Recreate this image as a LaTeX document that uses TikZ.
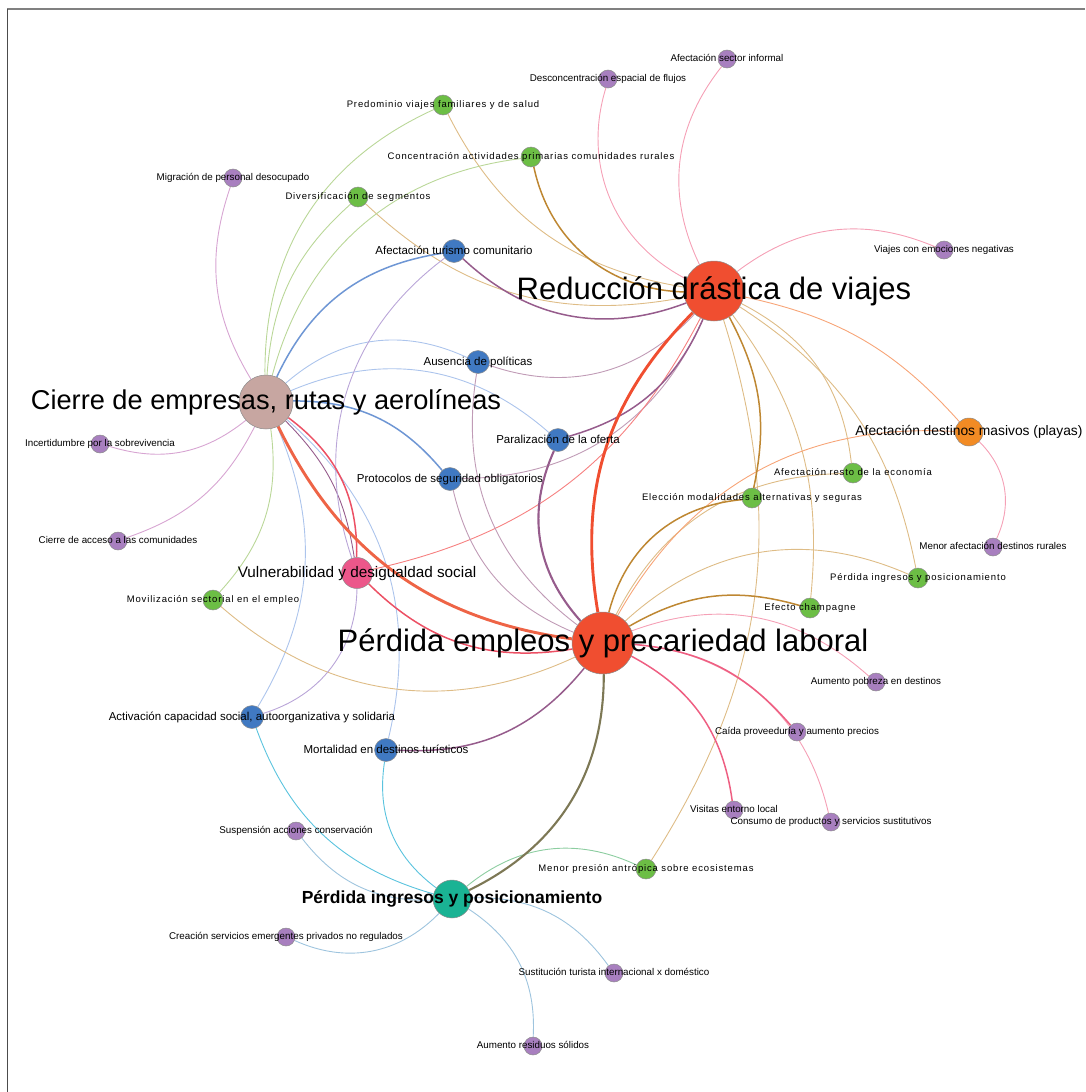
\documentclass[tikz,border=0pt]{standalone}
\usepackage{fontspec}
\setmainfont{Liberation Sans}
\newfontfamily\gfont[LetterSpace=9]{Liberation Sans}
\usetikzlibrary{backgrounds}
\definecolor{nred}{RGB}{240,78,48}
\definecolor{ncer}{RGB}{199,166,161}
\definecolor{nteal}{RGB}{26,179,148}
\definecolor{nvds}{RGB}{236,87,138}
\definecolor{nadm}{RGB}{242,139,36}
\definecolor{nblue}{RGB}{64,121,194}
\definecolor{ngreen}{RGB}{108,190,69}
\definecolor{npurp}{RGB}{168,127,191}
\definecolor{epink}{RGB}{245,160,182}
\definecolor{ebrown}{RGB}{190,135,50}
\definecolor{etan}{RGB}{222,188,134}
\definecolor{emauveD}{RGB}{150,92,140}
\definecolor{emauveL}{RGB}{192,155,182}
\definecolor{eredL}{RGB}{246,128,128}
\definecolor{eorange}{RGB}{247,165,120}
\definecolor{egreenL}{RGB}{186,215,152}
\definecolor{eblueM}{RGB}{110,150,212}
\definecolor{eblueL}{RGB}{172,196,236}
\definecolor{elavpink}{RGB}{215,165,210}
\definecolor{eorred}{RGB}{238,100,70}
\definecolor{evdsred}{RGB}{236,80,100}
\definecolor{epinkD}{RGB}{238,95,130}
\definecolor{eolive}{RGB}{125,120,85}
\definecolor{elav}{RGB}{186,166,216}
\definecolor{ecyan}{RGB}{90,195,222}
\definecolor{elblue}{RGB}{158,196,222}
\definecolor{elgreen}{RGB}{140,205,160}
\definecolor{frame}{RGB}{128,128,128}
\tikzset{
  dot/.style 2 args={circle, draw=black!45, line width=0.5pt, inner sep=0pt, fill=#1, minimum size=#2},
  lab/.style={inner sep=0pt, text=black},
  biglab/.style={lab, font=\fontsize{31}{31}\selectfont, text height=23pt, text depth=6pt},
  cerlab/.style={lab, font=\fontsize{27.2}{27}\selectfont, text height=20pt, text depth=5pt},
  piplab/.style={lab, font=\bfseries\fontsize{17.5}{18}\selectfont, text height=13pt, text depth=3.5pt},
  vdslab/.style={lab, font=\fontsize{15.3}{16}\selectfont, text height=11.4pt, text depth=3pt},
  admlab/.style={lab, font=\fontsize{13.8}{14}\selectfont, text height=10.3pt, text depth=2.7pt},
  bluelab/.style={lab, font=\fontsize{11.5}{12}\selectfont, text height=8.6pt, text depth=2.3pt},
  greenlab/.style={lab, font=\gfont\fontsize{9.5}{10}\selectfont, text height=7.1pt, text depth=1.9pt},
  purplab/.style={lab, font=\fontsize{9.8}{10}\selectfont, text height=7.4pt, text depth=2pt},
  ln/.style={line width=0.9pt},
  lnm/.style={line width=1.5pt},
  lnt/.style={line width=2.9pt},
}
\begin{document}
\begin{tikzpicture}[x=1pt,y=-1pt]
\useasboundingbox (0,0) rectangle (1085,1092);
\draw[frame, line width=1.5pt] (7,9) -- (1085,9);
\draw[black!70, line width=1pt] (7,9) -- (7,1092);
% nodes
\node[dot={nred}{60pt}] (rdv) at (714,291) {};
\node[dot={nred}{62pt}] (pep) at (603,643) {};
\node[dot={ncer}{54pt}] (cer) at (266,402) {};
\node[dot={nteal}{38pt}] (pip) at (452,899) {};
\node[dot={nvds}{31pt}] (vds) at (357,573) {};
\node[dot={nadm}{28pt}] (adm) at (969,432) {};
\node[dot={nblue}{23pt}] (atc) at (454,251) {};
\node[dot={nblue}{23pt}] (aus) at (478,362) {};
\node[dot={nblue}{23pt}] (par) at (558,440) {};
\node[dot={nblue}{23pt}] (pro) at (450,479) {};
\node[dot={nblue}{23pt}] (act) at (252,717) {};
\node[dot={nblue}{23pt}] (mor) at (386,750) {};
\node[dot={ngreen}{20pt}] (pvf) at (443,105) {};
\node[dot={ngreen}{20pt}] (cap) at (531,157) {};
\node[dot={ngreen}{20pt}] (div) at (358,197) {};
\node[dot={ngreen}{20pt}] (are) at (853,473) {};
\node[dot={ngreen}{20pt}] (ema) at (752,498) {};
\node[dot={ngreen}{20pt}] (pip2) at (918,578) {};
\node[dot={ngreen}{20pt}] (ech) at (810,608) {};
\node[dot={ngreen}{20pt}] (mse) at (213,600) {};
\node[dot={ngreen}{20pt}] (mpa) at (646,869) {};
\node[dot={npurp}{18pt}] (asi) at (727,59) {};
\node[dot={npurp}{18pt}] (def) at (608,79) {};
\node[dot={npurp}{18pt}] (ven) at (944,250) {};
\node[dot={npurp}{18pt}] (mig) at (233,178) {};
\node[dot={npurp}{18pt}] (inc) at (100,444) {};
\node[dot={npurp}{18pt}] (cac) at (118,541) {};
\node[dot={npurp}{18pt}] (mar) at (993,547) {};
\node[dot={npurp}{18pt}] (apd) at (876,682) {};
\node[dot={npurp}{18pt}] (cpa) at (797,732) {};
\node[dot={npurp}{18pt}] (vel) at (734,810) {};
\node[dot={npurp}{18pt}] (cps) at (831,822) {};
\node[dot={npurp}{18pt}] (sac) at (296,831) {};
\node[dot={npurp}{18pt}] (cse) at (286,937) {};
\node[dot={npurp}{18pt}] (sti) at (614,973) {};
\node[dot={npurp}{18pt}] (ars) at (533,1046) {};
% edges
\begin{scope}[on background layer]
\draw[ln, epink] (rdv) to[bend left=32] (asi);
\draw[ln, epink] (rdv) to[bend left=40] (def);
\draw[ln, epink] (rdv) to[bend left=30] (ven);
\draw[ln, etan] (rdv) to[bend left=27] (pvf);
\draw[ln, etan] (rdv) to[bend left=27] (div);
\draw[ln, emauveL] (rdv) to[bend left=33] (aus);
\draw[ln, emauveL] (rdv) to[bend left=33] (pro);
\draw[ln, eredL] (rdv) to[bend left=25] (vds);
\draw[ln, eorange] (rdv) to[bend left=18] (adm);
\draw[ln, etan] (rdv) to[bend left=28] (are);
\draw[ln, etan] (rdv) to[bend left=23] (pip2);
\draw[ln, etan] (rdv) to[bend left=21] (ech);
\draw[ln, etan] (rdv) to[bend left=25] (mpa);
\draw[ln, elavpink] (cer) to[bend left=25] (mig);
\draw[ln, egreenL] (cer) to[bend left=33] (pvf);
\draw[ln, egreenL] (cer) to[bend left=22] (div);
\draw[ln, egreenL] (cer) to[bend left=34] (cap);
\draw[ln, eblueL] (cer) to[bend left=33] (aus);
\draw[ln, eblueL] (cer) to[bend left=32] (par);
\draw[ln, elavpink] (cer) to[bend left=28] (inc);
\draw[ln, elavpink] (cer) to[bend left=22] (cac);
\draw[ln, egreenL] (cer) to[bend left=25] (mse);
\draw[ln, emauveD] (cer) to[bend left=18] (vds);
\draw[ln, eblueL] (cer) to[bend left=27] (act);
\draw[ln, eblueL] (cer) to[bend left=31] (mor);
\draw[ln, emauveL] (pep) to[bend left=31] (aus);
\draw[ln, emauveL] (pep) to[bend left=27] (pro);
\draw[ln, etan] (pep) to[bend left=33] (mse);
\draw[ln, etan] (pep) to[bend left=31] (are);
\draw[ln, eorange] (pep) to[bend left=32] (adm);
\draw[ln, etan] (pep) to[bend left=33] (pip2);
\draw[ln, epink] (pep) to[bend left=31] (apd);
\draw[ln, epink] (pep) to[bend left=36] (cps);
\draw[ln, elav] (vds) to[bend left=36] (atc);
\draw[ln, elav] (vds) to[bend left=36] (act);
\draw[ln, ecyan] (pip) to[bend left=27] (act);
\draw[ln, ecyan] (pip) to[bend left=31] (mor);
\draw[ln, elblue] (pip) to[bend left=27] (sac);
\draw[ln, elblue] (pip) to[bend left=35] (cse);
\draw[ln, elblue] (pip) to[bend left=28] (sti);
\draw[ln, elblue] (pip) to[bend left=30] (ars);
\draw[ln, elgreen] (pip) to[bend left=32] (mpa);
\draw[ln, epink] (adm) to[bend left=35] (mar);
% medium
\draw[lnm, ebrown] (rdv) to[bend left=38] (cap);
\draw[lnm, emauveD] (rdv) to[bend left=32] (atc);
\draw[lnm, emauveD] (rdv) to[bend left=25] (par);
\draw[lnm, ebrown] (rdv) to[bend left=20] (ema);
\draw[lnm, eblueM] (cer) to[bend left=28] (atc);
\draw[lnm, eblueM] (cer) to[bend left=25] (pro);
\draw[lnm, evdsred] (cer) to[bend left=27] (vds);
\draw[lnm, evdsred] (pep) to[bend left=27] (vds);
\draw[lnm, emauveD] (pep) to[bend left=27] (mor);
\draw[lnm, ebrown] (pep) to[bend left=35] (ema);
\draw[lnm, ebrown] (pep) to[bend left=23] (ech);
\draw[lnm, epinkD] (pep) to[bend left=22] (cpa);
\draw[lnm, epinkD] (pep) to[bend left=27] (vel);
\draw[line width=2.1pt, emauveD] (pep) to[bend left=33] (par);
\draw[line width=2.1pt, eolive] (pep) to[bend left=32] (pip);
% thick
\draw[lnt, eorred] (pep) to[bend left=28] (cer);
\draw[lnt, nred] (pep) to[bend left=27] (rdv);
\end{scope}
% labels
\node[biglab] (rdvL) at (rdv.center) {Reducción drástica de viajes};
\node[biglab] (pepL) at (pep.center) {Pérdida empleos y precariedad laboral};
\node[cerlab] (cerL) at (cer.center) {Cierre de empresas, rutas y aerolíneas};
\node[piplab] (pipL) at (pip.center) {Pérdida ingresos y posicionamiento};
\node[vdslab] (vdsL) at (vds.center) {Vulnerabilidad y desigualdad social};
\node[admlab] (admL) at (adm.center) {Afectación destinos masivos (playas)};
\node[bluelab] (atcL) at (atc.center) {Afectación turismo comunitario};
\node[bluelab] (ausL) at (aus.center) {Ausencia de políticas};
\node[bluelab] (parL) at (par.center) {Paralización de la oferta};
\node[bluelab] (proL) at (pro.center) {Protocolos de seguridad obligatorios};
\node[bluelab] (actL) at (act.center) {Activación capacidad social, autoorganizativa y solidaria};
\node[bluelab] (morL) at (mor.center) {Mortalidad en destinos turísticos};
\node[greenlab] (pvfL) at (pvf.center) {Predominio viajes familiares y de salud};
\node[greenlab] (capL) at (cap.center) {Concentración actividades primarias comunidades rurales};
\node[greenlab] (divL) at (div.center) {Diversificación de segmentos};
\node[greenlab] (areL) at (are.center) {Afectación resto de la economía};
\node[greenlab] (emaL) at (ema.center) {Elección modalidades alternativas y seguras};
\node[greenlab] (pip2L) at (pip2.center) {Pérdida ingresos y posicionamiento};
\node[greenlab] (echL) at (ech.center) {Efecto champagne};
\node[greenlab] (mseL) at (mse.center) {Movilización sectorial en el empleo};
\node[greenlab] (mpaL) at (mpa.center) {Menor presión antrópica sobre ecosistemas};
\node[purplab] (asiL) at (asi.center) {Afectación sector informal};
\node[purplab] (defL) at (def.center) {Desconcentración espacial de flujos};
\node[purplab] (venL) at (ven.center) {Viajes con emociones negativas};
\node[purplab] (migL) at (mig.center) {Migración de personal desocupado};
\node[purplab] (incL) at (inc.center) {Incertidumbre por la sobrevivencia};
\node[purplab] (cacL) at (cac.center) {Cierre de acceso a las comunidades};
\node[purplab] (marL) at (mar.center) {Menor afectación destinos rurales};
\node[purplab] (apdL) at (apd.center) {Aumento pobreza en destinos};
\node[purplab] (cpaL) at (cpa.center) {Caída proveeduría y aumento precios};
\node[purplab] (velL) at (vel.center) {Visitas entorno local};
\node[purplab] (cpsL) at (cps.center) {Consumo de productos y servicios sustitutivos};
\node[purplab] (sacL) at (sac.center) {Suspensión acciones conservación};
\node[purplab] (cseL) at (cse.center) {Creación servicios emergentes privados no regulados};
\node[purplab] (stiL) at (sti.center) {Sustitución turista internacional x doméstico};
\node[purplab] (arsL) at (ars.center) {Aumento residuos sólidos};
\end{tikzpicture}
\end{document}
